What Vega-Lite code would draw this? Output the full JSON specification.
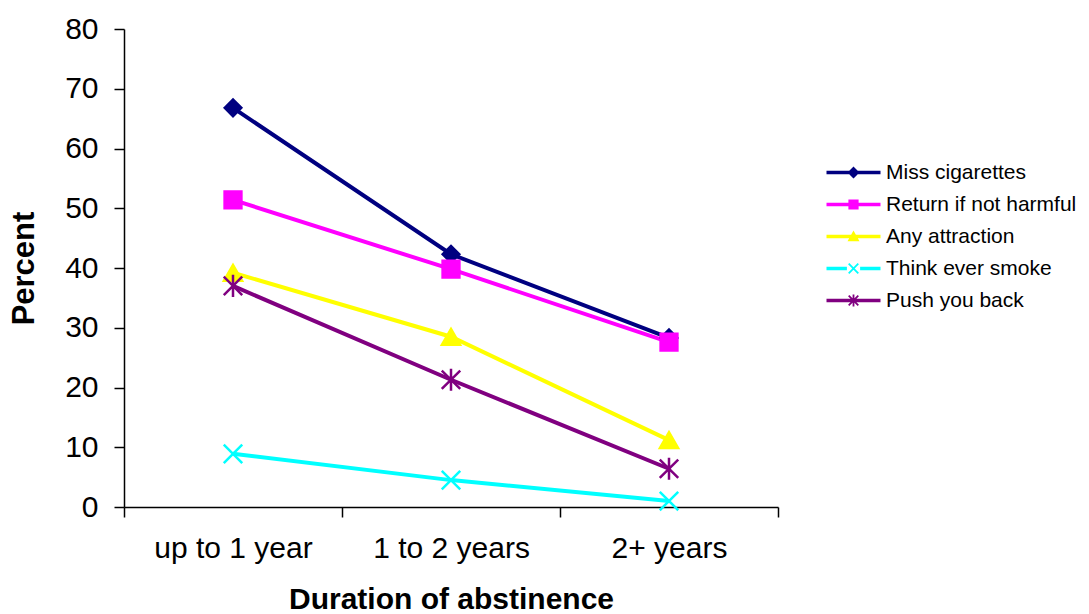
{
  "$schema": "https://vega.github.io/schema/vega-lite/v6.json",
  "width": 654,
  "height": 478,
  "autosize": "none",
  "padding": {"left": 124, "top": 29, "right": 311, "bottom": 107},
  "background": "white",
  "config": {
    "view": {"stroke": null},
    "font": "Liberation Sans",
    "axis": {"grid": false, "domainColor": "black", "tickColor": "black", "labelColor": "black", "titleColor": "black", "labelFont": "Liberation Sans", "titleFont": "Liberation Sans", "domainWidth": 1.5, "tickWidth": 1.5}
  },
  "data": {
    "values": [
      {"duration": "up to 1 year", "series": "Miss cigarettes", "percent": 66.8},
      {"duration": "1 to 2 years", "series": "Miss cigarettes", "percent": 42.3},
      {"duration": "2+ years", "series": "Miss cigarettes", "percent": 28.3},
      {"duration": "up to 1 year", "series": "Return if not harmful", "percent": 51.4},
      {"duration": "1 to 2 years", "series": "Return if not harmful", "percent": 39.8},
      {"duration": "2+ years", "series": "Return if not harmful", "percent": 27.6},
      {"duration": "up to 1 year", "series": "Any attraction", "percent": 39.2},
      {"duration": "1 to 2 years", "series": "Any attraction", "percent": 28.5},
      {"duration": "2+ years", "series": "Any attraction", "percent": 11.2},
      {"duration": "up to 1 year", "series": "Think ever smoke", "percent": 8.9},
      {"duration": "1 to 2 years", "series": "Think ever smoke", "percent": 4.5},
      {"duration": "2+ years", "series": "Think ever smoke", "percent": 1.0},
      {"duration": "up to 1 year", "series": "Push you back", "percent": 37.0},
      {"duration": "1 to 2 years", "series": "Push you back", "percent": 21.3},
      {"duration": "2+ years", "series": "Push you back", "percent": 6.4}
    ]
  },
  "encoding": {
    "x": {
      "field": "duration", "type": "ordinal", "bandPosition": 0.5,
      "sort": ["up to 1 year", "1 to 2 years", "2+ years"],
      "scale": {"type": "band", "paddingInner": 0, "paddingOuter": 0},
      "axis": {"title": "Duration of abstinence", "labelAngle": 0, "labelFontSize": 30, "titleFontSize": 30, "titleFontWeight": "bold", "tickBand": "extent", "tickSize": 10, "labelPadding": 16, "titleY": 92, "titleBaseline": "middle"}
    },
    "y": {
      "field": "percent", "type": "quantitative",
      "scale": {"domain": [0, 80]},
      "axis": {"title": "Percent", "values": [0, 10, 20, 30, 40, 50, 60, 70, 80], "labelFontSize": 30, "titleFontSize": 31, "titleFontWeight": "bold", "tickSize": 10, "labelPadding": 16, "titleX": -100, "titleY": 239, "titleAngle": 270, "titleAlign": "center", "titleBaseline": "middle"}
    }
  },
  "layer": [
    {
      "mark": {"type": "point", "filled": true, "opacity": 1, "size": 0},
      "encoding": {
        "color": {"field": "series", "type": "nominal",
          "scale": {"domain": ["Miss cigarettes", "Return if not harmful", "Any attraction", "Think ever smoke", "Push you back"], "range": ["#000080", "#FF00FF", "#FFFF00", "#00FFFF", "#800080"]},
          "legend": {
            "title": null, "orient": "none", "legendX": 719, "legendY": 133, "padding": 0,
            "labelFontSize": 21, "labelFont": "Liberation Sans", "labelColor": "black", "labelOffset": 22, "labelLimit": 0, "rowPadding": 10,
            "symbolSize": 144, "symbolOpacity": 1, "symbolStrokeWidth": 0
          }},
        "shape": {"field": "series", "type": "nominal",
          "scale": {"domain": ["Miss cigarettes", "Return if not harmful", "Any attraction", "Think ever smoke", "Push you back"],
            "range": [
              "M-4.5,-0.3H4.5V0.3H-4.5ZM0,-1L1,0L0,1L-1,0Z",
              "M-4.5,-0.3H4.5V0.3H-4.5ZM-0.85,-0.85H0.85V0.85H-0.85Z",
              "M-4.5,-0.3H4.5V0.3H-4.5ZM0,-1L1,0.8H-1Z",
              "M-4.5,-0.3H-1.1V0.3H-4.5ZM1.1,-0.3H4.5V0.3H1.1ZM-0.694,-0.906L0.906,0.694L0.694,0.906L-0.906,-0.694ZM-0.906,0.694L0.694,-0.906L0.906,-0.694L-0.694,0.906Z",
              "M-4.5,-0.3H4.5V0.3H-4.5ZM-0.694,-0.906L0.906,0.694L0.694,0.906L-0.906,-0.694ZM-0.906,0.694L0.694,-0.906L0.906,-0.694L-0.694,0.906ZM-0.15,-1H0.15V1H-0.15Z"
            ]}}
      }
    },
    {
      "mark": {"type": "line", "strokeWidth": 4, "stroke": {"expr": "scale('color', datum.series)"}},
      "encoding": {
        "detail": {"field": "series", "type": "nominal"}
      }
    },
    {
      "transform": [{"filter": "datum.series === 'Miss cigarettes'"}],
      "mark": {"type": "point", "shape": "diamond", "filled": true, "opacity": 1, "size": 300, "strokeWidth": 2, "fill": "#000080", "stroke": "#000080"}
    },
    {
      "transform": [{"filter": "datum.series === 'Return if not harmful'"}],
      "mark": {"type": "point", "shape": "square", "filled": true, "opacity": 1, "size": 300, "strokeWidth": 2, "fill": "#FF00FF", "stroke": "#FF00FF"}
    },
    {
      "transform": [{"filter": "datum.series === 'Any attraction'"}],
      "mark": {"type": "point", "shape": "triangle-up", "filled": true, "opacity": 1, "size": 360, "strokeWidth": 2, "fill": "#FFFF00", "stroke": "#FFFF00"}
    },
    {
      "transform": [{"filter": "datum.series === 'Think ever smoke'"}],
      "mark": {"type": "point", "shape": "M-1,-1L1,1M-1,1L1,-1", "filled": false, "opacity": 1, "size": 340, "strokeWidth": 2.5, "stroke": "#00FFFF"}
    },
    {
      "transform": [{"filter": "datum.series === 'Push you back'"}],
      "mark": {"type": "point", "shape": "M-1,-1L1,1M-1,1L1,-1M0,-1.2L0,1.2", "filled": false, "opacity": 1, "size": 340, "strokeWidth": 2.5, "stroke": "#800080"}
    }
  ]
}
